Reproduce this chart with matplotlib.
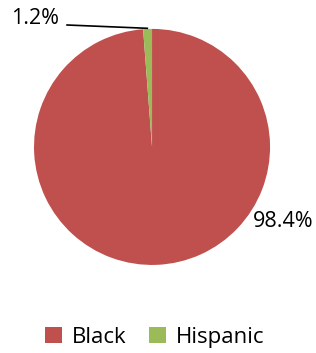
import matplotlib
matplotlib.use("Agg")
import matplotlib.pyplot as plt
from matplotlib.patches import Patch

categories = ["Black", "Hispanic"]
values = [98.4, 1.2]
labels = ["98.4%", "1.2%"]
colors = ["#C0504D", "#9BBB59"]

plt.rcParams['font.family'] = ['Open Sans', 'DejaVu Sans']

fig = plt.figure(figsize=(3.16, 3.53), dpi=100)
ax = fig.add_axes([0.1076, 0.2493, 0.747, 0.669])
ax.pie(values, colors=colors, startangle=90, counterclock=False,
       wedgeprops=dict(linewidth=0))
ax.set_xlim(-1, 1)
ax.set_ylim(-1, 1)
ax.set_aspect("equal")

ax.text(1.115, -0.636, labels[0], ha="center", va="center", fontsize=15.5, color="black")
ax.text(-0.99, 1.09, labels[1], ha="center", va="center", fontsize=15.5, color="black",
        clip_on=False)
ax.plot([-0.72, -0.04], [1.033, 1.005], color="black", lw=1.2, clip_on=False)

handles = [Patch(facecolor=c, edgecolor="none") for c in colors]
fig.legend(handles, categories, loc="center", bbox_to_anchor=(0.49, 0.045),
           ncol=2, frameon=False, fontsize=16, handlelength=0.75, handleheight=0.75,
           handletextpad=0.45, columnspacing=1.0)

fig.savefig("out.png", dpi=100)
